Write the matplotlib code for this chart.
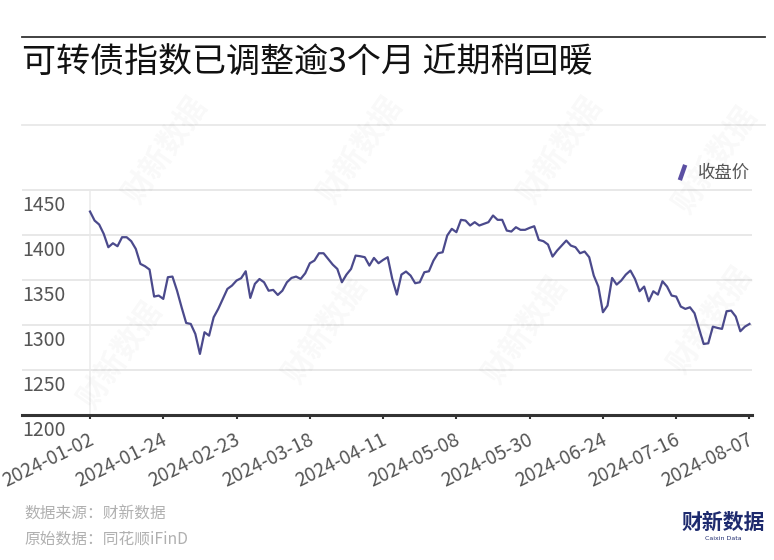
import numpy as np
import matplotlib
matplotlib.use("Agg")
import matplotlib.pyplot as plt
from matplotlib.lines import Line2D
from matplotlib.transforms import ScaledTranslation

plt.rcParams['font.family'] = ['Noto Sans CJK SC', 'DejaVu Sans']

# closing values of the convertible bond index, one per trading day
close = [
    1425.9, 1415.9, 1411.5, 1401.1, 1386.3, 1390.7, 1387.4, 1397.4, 1397.4, 1393.0,
    1384.4, 1367.8, 1365.2, 1361.5, 1331.5, 1332.6, 1328.9, 1353.0, 1353.7, 1338.1,
    1319.6, 1302.2, 1301.1, 1290.0, 1267.8, 1291.9, 1288.1, 1308.5, 1317.8, 1328.9,
    1340.0, 1343.7, 1349.3, 1351.9, 1359.6, 1330.0, 1345.6, 1351.0, 1347.4, 1338.0,
    1338.9, 1333.3, 1338.0, 1347.4, 1352.2, 1353.7, 1351.1, 1357.4, 1368.5, 1371.5,
    1379.6, 1379.6, 1373.3, 1367.0, 1362.2, 1347.4, 1355.9, 1362.2, 1377.0, 1376.3,
    1375.2, 1365.9, 1374.4, 1368.5, 1372.2, 1375.2, 1351.1, 1333.7, 1355.9, 1359.3,
    1354.8, 1346.3, 1347.4, 1358.5, 1359.6, 1371.5, 1379.6, 1380.7, 1399.3, 1406.7,
    1403.0, 1416.7, 1415.9, 1410.4, 1414.1, 1410.4, 1412.2, 1414.1, 1421.5, 1416.7,
    1416.7, 1404.8, 1403.7, 1408.5, 1405.6, 1405.6, 1407.8, 1409.6, 1394.4, 1393.0,
    1389.3, 1375.9, 1382.6, 1388.1, 1393.7, 1388.1, 1386.3, 1379.6, 1381.5, 1375.2,
    1354.8, 1342.6, 1314.1, 1321.5, 1352.2, 1344.8, 1349.3, 1355.9, 1360.4, 1351.1,
    1337.4, 1342.6, 1326.3, 1337.4, 1333.7, 1348.5, 1342.6, 1332.6, 1331.5, 1320.4,
    1317.8, 1319.6, 1313.0, 1295.6, 1278.9, 1279.6, 1298.1, 1296.7, 1295.6, 1315.2,
    1315.9, 1309.3, 1293.0, 1298.1, 1301.1,
]
tick_dates = ['2024-01-02', '2024-01-24', '2024-02-23', '2024-03-18', '2024-04-11',
              '2024-05-08', '2024-05-30', '2024-06-24', '2024-07-16', '2024-08-07']
tick_every = 16
y_ticks = [1200, 1250, 1300, 1350, 1400, 1450]

title = '可转债指数已调整逾3个月 近期稍回暖'
series_name = '收盘价'
source_lines = ['数据来源：财新数据', '原始数据：同花顺iFinD']

line_color = '#4b4a8c'
W, H = 774, 560

fig = plt.figure(figsize=(W / 100, H / 100), dpi=100)
fig.patch.set_facecolor('white')

# faint diagonal watermarks
for wx, wy in [(165, 150), (360, 150), (560, 150), (715, 160),
               (120, 355), (325, 330), (525, 330), (710, 320)]:
    fig.text(wx / W, 1 - wy / H, '财新数据', fontsize=22, fontweight='bold',
             color='#000000', alpha=0.028, rotation=55, ha='center', va='center')

ax = fig.add_axes([22 / W, (H - 415) / H, (752 - 22) / W, 290 / H])
x = np.arange(len(close))
ax.plot(x, close, color=line_color, lw=1.6, solid_joinstyle='round')

ax.set_xlim(-14.85, 144.55)
ax.set_ylim(1200, 1522)

for s in ['top', 'right', 'left']:
    ax.spines[s].set_visible(False)
ax.spines['bottom'].set_color('#333333')
ax.spines['bottom'].set_linewidth(2.2)

ax.set_yticks(y_ticks)
ax.yaxis.grid(True, color='#e8e8e8', lw=1.4)
ax.set_axisbelow(True)
ax.tick_params(axis='y', length=0, labelleft=False)
ax.vlines(0, 1200, 1450, color='#ececec', lw=1.2, zorder=0)

# y labels hang just under their gridlines
off = ScaledTranslation(0, -16 / 100, fig.dpi_scale_trans)
for v in y_ticks:
    ax.text(-14.85, v, str(v), transform=ax.transData + off, ha='left', va='center',
            fontsize=14, color='#555555')

ax.set_xticks(np.arange(0, len(close), tick_every))
ax.set_xticklabels(tick_dates, rotation=26, ha='right', fontsize=13.8, color='#555555')
ax.tick_params(axis='x', length=3, width=1.5, color='#333333', pad=7)
shift = ScaledTranslation(7 / 100, 0, fig.dpi_scale_trans)
for lbl in ax.get_xticklabels():
    lbl.set_transform(lbl.get_transform() + shift)

# legend with a slanted stroke as handle
slant = [(-0.35, -1), (0.35, 1)]
handle = Line2D([0], [0], color='#5b4fa3', marker=slant, ls='none', ms=11, mew=3.2)
ax.legend([handle], [series_name], loc='center right', bbox_to_anchor=(750 / W, 1 - 173 / H),
          bbox_transform=fig.transFigure, frameon=False, fontsize=12.5, labelcolor='#555555',
          handlelength=0.8, handletextpad=0.5, borderpad=0, borderaxespad=0)

# rules
fig.add_artist(Line2D([22 / W, 765 / W], [1 - 37 / H, 1 - 37 / H], color='#333333', lw=1.3))
fig.add_artist(Line2D([22 / W, 765 / W], [1 - 125 / H, 1 - 125 / H], color='#e8e8e8', lw=1.3))

fig.text(22 / W, 1 - 62 / H, title, fontsize=24.5, color='#111111', ha='left', va='center')

fig.text(24 / W, 1 - 514 / H, source_lines[0], fontsize=11.3, color='#b0b0b0', ha='left', va='center')
fig.text(24 / W, 1 - 539 / H, source_lines[1], fontsize=11.3, color='#b0b0b0', ha='left', va='center')

fig.text(723 / W, 1 - 522 / H, '财新数据', fontsize=15, fontweight='bold', color='#1d2a6e',
         ha='center', va='center')
fig.text(723 / W, 1 - 539 / H, 'Caixin Data', fontsize=4.5, color='#1d2a6e', ha='center', va='center',
         family=['DejaVu Sans'])

fig.savefig('out.png', dpi=100)
